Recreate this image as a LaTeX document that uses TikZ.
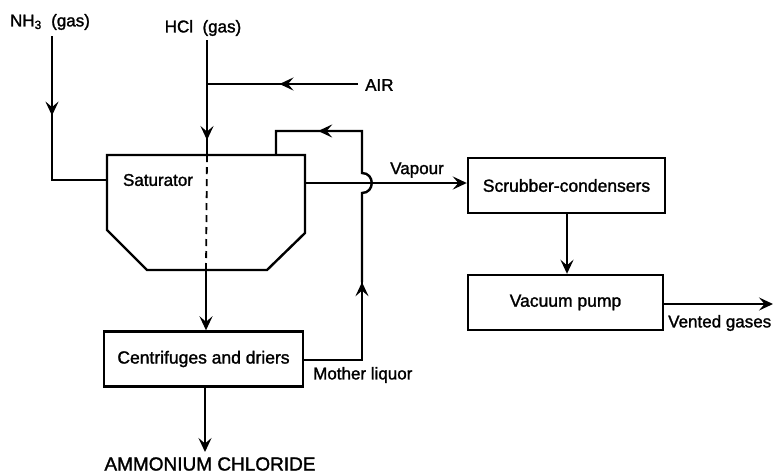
\documentclass[tikz,border=0pt]{standalone}
\usepackage{fontspec}
\setmainfont{Liberation Sans}[FakeBold=1.5]
\usetikzlibrary{arrows.meta,decorations.markings}
\begin{document}
\begin{tikzpicture}[x=1pt,y=-1pt,
  line width=2.4pt,
  tip/.tip={Stealth[length=14pt,width=13pt,inset=5.5pt]},
  flow/.style={-tip},
  midarrow/.style={postaction={decorate},decoration={markings,mark=at position #1 with {\arrow{tip}}}},
  box/.style={draw,minimum height=55pt,inner sep=0pt,font=\fontsize{17.5}{20}\selectfont},
  lab/.style={inner sep=0pt,font=\fontsize{17}{20}\selectfont},
  biglab/.style={inner sep=0pt,font=\fontsize{19}{22}\selectfont}]
\useasboundingbox (0,0) rectangle (774,475);

% labels
\node[lab] (nh3) at (50,22) {NH\textsubscript{3}~~(gas)};
\node[lab] (hcl) at (203,28) {HCl~~(gas)};
\node[lab,anchor=west] (air) at (364,85) {AIR};
\node[lab] (vap) at (417,170) {Vapour};
\node[lab,anchor=west] (ml) at (312,375) {Mother~liquor};
\node[lab,anchor=west] (vent) at (667,323) {Vented gases};
\node[biglab] (amm) at (210,464) {AMMONIUM CHLORIDE};

% saturator
\draw (107,155) -- (305,155) -- (305,233) -- (267,270) -- (147,270) -- (107,230) -- cycle;
\coordinate (satL) at (107,180);
\coordinate (satT) at (207,155);
\coordinate (satB) at (206,270);
\coordinate (satR) at (305,183);
\coordinate (satTR) at (276,155);
\draw[dash pattern=on 7pt off 5pt,line width=1.8pt] (satT) -- (satB);
\node[lab] (sat) at (158,180) {Saturator};

% boxes
\node[box,minimum width=199pt] (cent) at (203.5,359) {Centrifuges and driers};
\node[box,minimum width=197pt] (scrub) at (566.5,185.5) {Scrubber-condensers};
\node[box,minimum width=195pt] (vac) at (565.5,302.5) {Vacuum pump};

% feeds
\coordinate (nh3top) at (52,36);
\coordinate (nh3c) at (52,180);
\draw[midarrow=0.4] (nh3top) -- (nh3c) -- (satL);
\coordinate (hcltop) at (207,40);
\draw[midarrow=0.87] (hcltop) -- (satT);
\coordinate (airend) at (358,84);
\coordinate (airj) at (207,84);
\draw[midarrow=0.52] (airend) -- (airj);

% saturator to centrifuges
\draw[flow] (satB) -- (cent.north -| satB);
% product
\draw[flow] (cent.south -| 205,0) -- (205,452);

% vapour
\draw[flow] (satR) -- (satR -| scrub.west);
\draw[flow] (scrub.south -| 567,0) -- (vac.north -| 567,0);
\draw[flow] (vac.east |- 0,304) -- (773,304);

% mother liquor recycle with hop
\coordinate (mlA) at (303,360);
\coordinate (mlB) at (362,360);
\draw[midarrow=0.999] (mlA) -- (mlB) -- (362,282);
\draw (362,282) -- (362,193) .. controls (375,193) and (375,173) .. (362,173)
  -- (362,131) -- (276,131) -- (satTR);
\draw[midarrow=0.51] (362,131) -- (276,131);
\end{tikzpicture}
\end{document}
